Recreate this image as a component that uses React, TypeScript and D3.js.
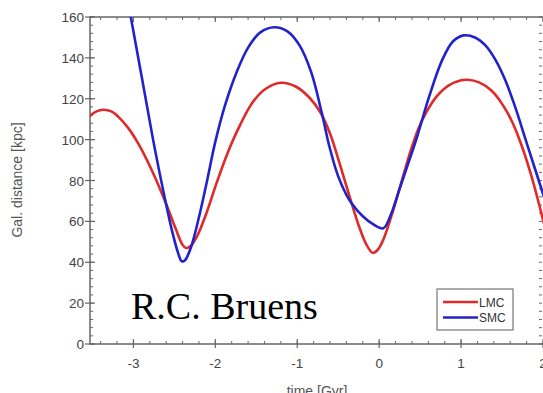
import React from "react";
import * as d3 from "d3";

const lmcTime = [-3.6, -3.53, -3.45, -3.37, -3.27, -3.18, -3.06, -2.94, -2.77, -2.61, -2.48, -2.40, -2.36, -2.30, -2.22, -2.10, -2.0, -1.85, -1.70, -1.54, -1.38, -1.20, -1.02, -0.85, -0.72, -0.60, -0.48, -0.36, -0.25, -0.16, -0.08, -0.02, 0.05, 0.16, 0.27, 0.38, 0.48, 0.57, 0.70, 0.85, 1.0, 1.08, 1.22, 1.37, 1.50, 1.62, 1.74, 1.86, 1.98, 2.05];
const lmcDist = [109, 111.7, 113.8, 114.6, 113.8, 111, 105.5, 98, 84.5, 69.5, 56, 48.5, 47, 48, 53, 65, 77, 93.5, 107, 118.5, 125, 127.8, 126, 120.5, 113.5, 103, 88, 72, 58, 49, 44.6, 46, 51, 64, 79, 94, 105.5, 113, 121, 126.5, 129, 129.3, 128, 124, 117.5, 109, 97, 82, 64, 53];

const smcTime = [-3.05, -2.90, -2.76, -2.62, -2.52, -2.45, -2.41, -2.37, -2.30, -2.20, -2.10, -2.0, -1.88, -1.74, -1.60, -1.45, -1.28, -1.12, -0.97, -0.83, -0.70, -0.61, -0.50, -0.40, -0.33, -0.20, -0.07, 0.05, 0.14, 0.25, 0.36, 0.46, 0.61, 0.77, 0.90, 1.03, 1.17, 1.30, 1.42, 1.54, 1.66, 1.78, 1.90, 1.98, 2.05];
const smcDist = [164, 131, 100, 72, 54, 44, 40.5, 41, 47, 62, 80, 99, 117, 133, 145, 152.5, 155, 153, 146, 133, 113, 97, 82, 73, 68.5, 62.5, 58.5, 56.6, 63, 76, 89, 101, 121, 139, 148, 151, 150, 146, 139, 129, 116, 101, 86, 76, 67];

const xTicks = [-3, -2, -1, 0, 1, 2];
const yTicks = [0, 20, 40, 60, 80, 100, 120, 140, 160];
const seriesNames = ["LMC", "SMC"];
const seriesColors = ["#e02a2a", "#2222cc"];

export default function App() {
  const left = 90, right = 543, top = 17, bottom = 344;
  const x = d3.scaleLinear().domain([-3.53, 2.0]).range([left, right]);
  const y = d3.scaleLinear().domain([0, 160]).range([bottom, top]);
  const line = d3
    .line<[number, number]>()
    .x((d) => x(d[0]))
    .y((d) => y(d[1]))
    .curve(d3.curveCatmullRom.alpha(0.5));
  const lmc = lmcTime.map((t, i) => [t, lmcDist[i]] as [number, number]);
  const smc = smcTime.map((t, i) => [t, smcDist[i]] as [number, number]);

  const xMinor = d3.range(-3.4, 2.01, 0.2).map((v) => Math.round(v * 10) / 10);
  const yMinor = d3.range(0, 160.1, 4);
  const axisColor = "#666";
  const textColor = "#444";
  const font = "'Liberation Sans', Arial, sans-serif";

  return (
    <svg width={543} height={393} style={{ position: "absolute", left: 0, top: 0, background: "#fff" }}>
      <defs>
        <clipPath id="plot">
          <rect x={left} y={top} width={right - left} height={bottom - top} />
        </clipPath>
      </defs>
      {xMinor.map((v, i) => (
        <g key={"xm" + i} stroke={axisColor} strokeWidth={1}>
          <line x1={x(v)} x2={x(v)} y1={bottom} y2={bottom - 3} />
          <line x1={x(v)} x2={x(v)} y1={top} y2={top + 3} />
        </g>
      ))}
      {yMinor.map((v, i) => (
        <g key={"ym" + i} stroke={axisColor} strokeWidth={1}>
          <line x1={left} x2={left + 3} y1={y(v)} y2={y(v)} />
          <line x1={right - 1} x2={right - 4} y1={y(v)} y2={y(v)} />
        </g>
      ))}
      {xTicks.map((v) => (
        <g key={"xt" + v}>
          <line x1={x(v)} x2={x(v)} y1={bottom + 4} y2={bottom - 5} stroke={axisColor} strokeWidth={1.2} />
          <line x1={x(v)} x2={x(v)} y1={top} y2={top + 5} stroke={axisColor} strokeWidth={1.2} />
          <text x={x(v)} y={368} textAnchor="middle" fontFamily={font} fontSize={13.5} fill={textColor}>
            {v}
          </text>
        </g>
      ))}
      {yTicks.map((v) => (
        <g key={"yt" + v}>
          <line x1={left - 5} x2={left + 5} y1={y(v)} y2={y(v)} stroke={axisColor} strokeWidth={1.2} />
          <text x={84} y={y(v) + 5} textAnchor="end" fontFamily={font} fontSize={13.5} fill={textColor}>
            {v}
          </text>
        </g>
      ))}
      <rect x={left} y={top} width={right - left + 2} height={bottom - top} fill="none" stroke={axisColor} strokeWidth={1.5} />

      <g clipPath="url(#plot)" fill="none" strokeWidth={2.6} strokeLinejoin="round">
        <path d={line(lmc) || ""} stroke={seriesColors[0]} />
        <path d={line(smc) || ""} stroke={seriesColors[1]} />
      </g>

      <text transform={`translate(22, 180) rotate(-90)`} textAnchor="middle" fontFamily={font} fontSize={14} fill="#555">
        Gal. distance [kpc]
      </text>
      <text x={317} y={396} textAnchor="middle" fontFamily={font} fontSize={14} fill="#555">
        time [Gyr]
      </text>

      <text x={131} y={319} fontFamily="'Liberation Serif', 'Times New Roman', serif" fontSize={38} fill="#000">
        R.C. Bruens
      </text>

      <rect x={437} y={289} width={76} height={41} fill="#fff" stroke="#777" strokeWidth={1.2} />
      {seriesNames.map((n, i) => (
        <g key={n}>
          <line x1={443} x2={478} y1={302 + i * 15.5} y2={302 + i * 15.5} stroke={seriesColors[i]} strokeWidth={2.6} />
          <text x={479} y={306.5 + i * 15.5} fontFamily={font} fontSize={12} fill="#333">
            {n}
          </text>
        </g>
      ))}
    </svg>
  );
}
